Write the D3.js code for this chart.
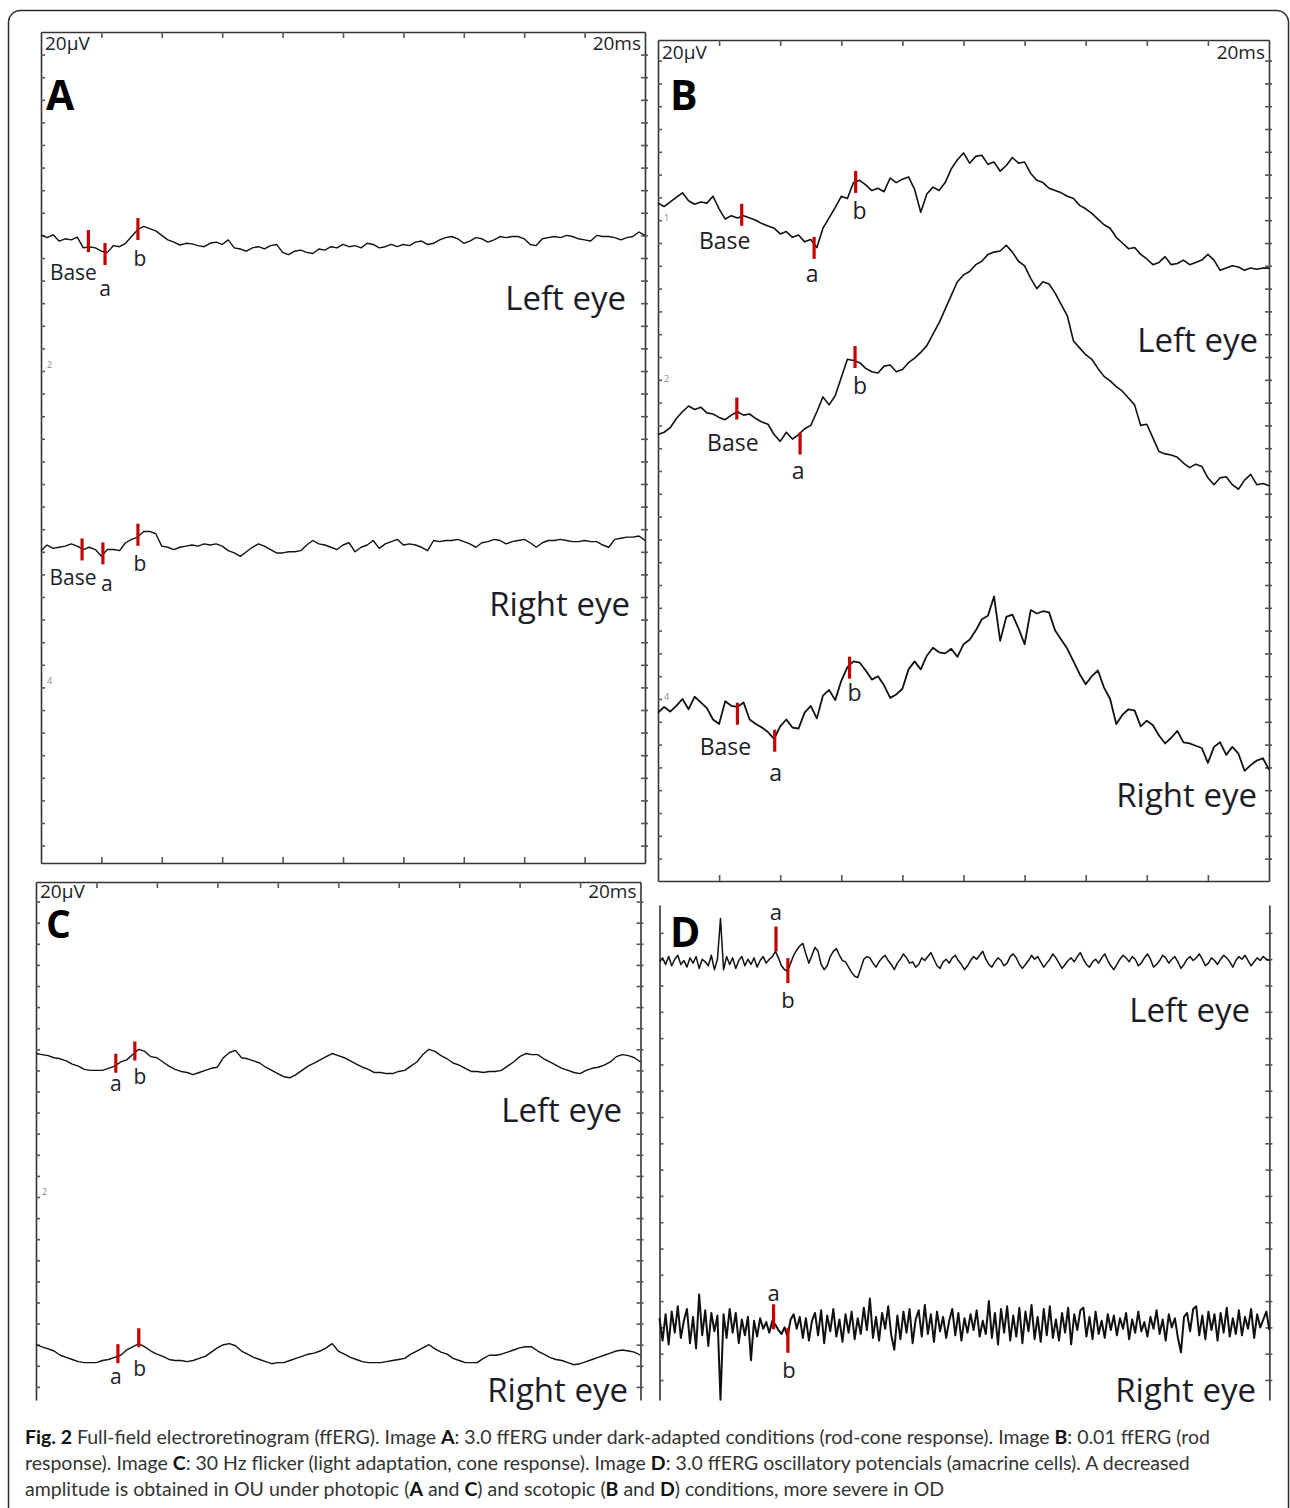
<!DOCTYPE html>
<html>
<head>
<meta charset="utf-8">
<title>ffERG</title>
<script src="https://cdn.jsdelivr.net/npm/d3@7"></script>
<style>
  body { margin: 0; background: #fff; }
  svg text { font-family: "Open Sans", sans-serif; }
</style>
</head>
<body>
<script>
// ---- data: time in ms (each top tick = 20 ms), amplitude in µV relative to the channel baseline ----
var timeTicks = [20, 40, 60, 80, 100, 120, 140, 160, 180];
var stepABC = 2;   // ms between samples, panels A B C
var stepD = 1;     // ms between samples, panel D

// A: 3.0 ffERG dark-adapted
var aLeft = [0.4,-2,0.5,-5,-3,-4,-1.5,-11,-10,-11, -14,-15,-9,-10,-7,-1,5,8,6,4, 0,-4,-6,-8.5,-7,-7.5,-9,-10,-7,-6,
  -8,-4,-11,-12,-14,-11,-10,-12,-9,-8, -15,-17,-14,-13,-15,-16,-12,-13,-10,-11, -8,-10,-9,-11,-7,-8,-11,-10,-8,-10,
  -8,-9,-6,-5,-8,-7,-4,-2,-1,-3, -7,-5,-2,-3,-6,-4,-1,-2,-1,-1, -3,-8,-9,-3,-2,-1,-2,0,-1,-3, -4,-5,0,-1,-1,-2,-4,-2,-1,3, 0];
var aRight = [-2,3,0,1,2,4,2,-1,1,-1, -7,-1,-1,-2,5,8,10,15,15,13, 2,1,-1,1,2,3,2,4,3,4, 2,-2,-4,-7,-3,1,4,2,-1,-4,
  -4,-3,-3,-2,3,7,4,3,1,-1, 3,5,-3,1,3,7,0,4,6,8, 3,4,3,1,-2,7,6,7,7,8, 6,4,1,5,6,8,7,4,6,7,
  8,5,1,5,7,7,8,7,6,6, 7,6,6,3,1,8,9,10,10,11, 7];
var aOffsets = [400, 123];
var aLeftMarks = [["Base", 15.7, -5], ["a", 21.2, -16.5], ["b", 32.1, 5.7]];
var aRightMarks = [["Base", 13.6, -0.9], ["a", 20.5, -4.4], ["b", 32.1, 12.1]];

// B: 0.01 ffERG
var bTrace1 = [2,-1,3,7,11,4,1,3,2,8, -3,-12,-9,-11,-9,-11,-13,-16,-18,-20, -25,-23,-28,-26,-32,-30,-37,-20,-11,-2,
  8,6,20,22,18,13,15,12,24,20, 23,25,14,-6,10,16,13,20,32,40, 46,37,43,44,36,38,30,35,42,37,
  38,28,22,20,15,13,11,8,6,0, -3,-7,-12,-17,-20,-28,-33,-38,-37,-43, -47,-52,-50,-45,-52,-51,-48,-52,-50,-48,
  -43,-48,-57,-55,-53,-54,-57,-55,-56,-55, -55];
var bTrace2 = [0,2,6,14,20,25,22,24,19,18, 15,13,17,20,17,18,14,11,9,0, -6,2,-4,0,5,8,20,33,26,34,
  50,66,65,63,58,55,54,60,61,55, 57,63,67,72,78,88,98,110,122,134, 140,143,149,152,158,160,161,166,160,152,
  148,137,128,134,132,124,114,104,82,76, 70,66,58,51,47,42,38,32,26,8, 9,-3,-15,-17,-18,-20,-25,-29,-26,-28,
  -38,-44,-38,-37,-44,-48,-40,-35,-44,-43, -45];
var bTrace3 = [0,5,1,6,12,3,14,9,4,-6, -10,10,6,5,9,-6,-10,-13,-17,-23, -12,-6,-13,-14,0,6,-5,15,20,11,
  28,40,45,44,37,29,32,24,13,16, 21,38,45,38,50,57,53,52,56,49, 60,64,72,82,85,102,63,84,86,74,
  60,90,87,89,88,72,64,56,45,34, 25,32,37,22,12,-10,-2,3,2,-12, -7,-11,-20,-27,-22,-16,-26,-27,-29,-31,
  -44,-30,-26,-37,-30,-36,-51,-46,-42,-40, -50];
var bOffsets = [433, 232, -12];
var bMarks1 = [["Base", 27.4, -8.3], ["a", 51.1, -37.3], ["b", 64.7, 20.6]];
var bMarks2 = [["Base", 25.8, 22.8], ["a", 46.5, -7.9], ["b", 64.5, 68]];
var bMarks3 = [["Base", 26, -0.9], ["a", 38.2, -24.6], ["b", 62.7, 39.5]];

// C: 30 Hz flicker
var cLeft = [0,-1,-2,-4,-5,-7,-10,-12,-15,-16, -16,-16,-14,-12,-8,-6,-1,4,2,-3, -4,-8,-12,-15,-17,-18,-20,-18,-16,-14,
  -13,-4,1,3,-4,-5,-7,-9,-13,-16, -19,-22,-23,-20,-16,-12,-9,-6,-3,0, -2,-4,-7,-10,-13,-15,-18,-18,-19,-19,
  -17,-16,-12,-8,-1,4,2,-2,-5,-9, -11,-14,-17,-17,-18,-17,-17,-16,-12,-8, -3,0,-1,-1,-5,-8,-11,-14,-16,-18,
  -19,-16,-14,-13,-11,-8,-3,-1,-2,-4, -8];
var cRight = [0,-2,-4,-6,-10,-12,-14,-16,-17,-17, -17,-15,-14,-12,-10,-5,-2,1,-2,-6, -9,-11,-14,-15,-15,-16,-15,-13,-11,-7,
  -3,0,1,-1,-6,-9,-12,-14,-16,-18, -17,-17,-15,-13,-11,-9,-8,-6,-3,1, -6,-9,-12,-14,-16,-17,-17,-17,-16,-15,
  -14,-13,-9,-6,-3,0,-4,-7,-9,-13, -15,-17,-17,-17,-13,-10,-10,-9,-7,-5, -3,-2,-2,-6,-9,-12,-14,-15,-17,-19,
  -18,-16,-14,-12,-10,-8,-6,-5,-6,-7, -10];
var cOffsets = [136, -140];
var cLeftMarks = [["a", 26.4, -9.2], ["b", 32.7, 2.4]];
var cRightMarks = [["a", 27.1, -8.5], ["b", 34, 6.6]];

// D: oscillatory potentials
var dLeft = [0,3,-2,4,-3,2,5,-2,1,-4, 3,-1,4,-5,2,0,-3,5,-6,2, 33,-6,4,-2,3,-5,1,4,-3,2,
  -2,3,-4,1,4,-1,2,4,8,3, -3,-6,-7,-1,5,9,12,14,6,-1, 5,11,8,-2,-6,-3,4,8,10,5,
  1,0,-4,-8,-11,-12,-5,2,4,3, -1,-4,0,3,5,1,-2,-6,-1,2, 6,3,-1,0,-4,-2,3,1,4,7,
  2,-3,-5,0,2,-1,3,5,1,-2, -6,-3,1,4,2,5,8,2,-2,-4, 0,3,1,-3,-1,4,6,3,-2,-5,
  -2,1,5,2,4,0,-4,-1,2,6, 3,-1,-5,-2,1,3,0,4,7,2, -2,-4,0,2,-1,3,6,1,-3,-6,
  -2,2,5,3,0,4,2,-3,-1,3, 6,2,-4,-2,1,5,3,-1,2,4, 0,-5,-2,2,4,1,3,6,2,-3,
  -1,3,1,-2,2,5,3,0,-4,1, 4,2,5,1,-3,0,3,1,4,2, 1];
var dRight = [5,-12,8,-15,10,-6,14,-10,3,12, -14,6,-18,23,-8,11,-16,9,-5,7, -57,8,-10,12,-6,9,-14,4,-8,6,
  -27,3,-9,5,-3,2,-6,3,0,-4, -7,-2,-9,4,8,-3,6,-10,5,-12, 3,9,-8,11,-14,7,-5,12,-9,4,
  -13,8,-6,10,-11,5,-7,13,-4,20, -10,6,-12,9,-3,14,-8,-19,7,-11, 10,-6,12,-14,4,11,-9,15,-7,8,
  -13,10,-5,6,-10,3,12,-8,9,-12, 5,-6,8,-4,11,-9,3,-7,18,-10, 9,-15,12,-6,14,-12,7,-9,13,-14,
  10,-5,15,-11,6,-13,12,-8,14,-10, 4,-12,9,-6,13,-15,8,-4,11,13, -9,6,-11,10,-7,3,-10,8,-4,7,
  -8,5,-3,9,-11,4,-6,10,-5,2, -9,6,-3,11,-7,4,-12,8,-2,5, -10,-21,6,9,-5,12,14,-8,7,-11,
  10,-4,8,-12,9,-6,13,-9,5,-7, 11,-8,6,-3,12,-10,8,-2,4,10, -4];
var dOffsets = [138, -138];
var dLeftMarks = [["a", 38.2, 17.3], ["b", 42.1, -6.7]];
var dRightMarks = [["a", 37.4, 6.1], ["b", 42.1, -11.8]];

// small channel numbers at the left border (µV position)
var aChan = [["2", 285], ["4", 6]];
var bChan = [["1", 422], ["2", 281], ["4", 2]];
var cChan = [["2", 5]];

// ---- layout ----
var W = 1290, H = 1508;
var svg = d3.select("body").append("svg").attr("width", W).attr("height", H);

svg.append("rect").attr("x", 8.5).attr("y", 10.5).attr("width", 1280).attr("height", 1530)
  .attr("rx", 12).attr("fill", "none").attr("stroke", "#2b2b2b").attr("stroke-width", 1.5);

var red = "#c40000";
var ink = "#1d1d28";

function panel(cfg) {
  var x = d3.scaleLinear().domain([0, 200]).range([cfg.x0, cfg.x1]);
  var y = d3.scaleLinear()
    .domain([(cfg.zeroY - cfg.y0) / cfg.k, (cfg.zeroY - cfg.y1) / cfg.k])
    .range([cfg.y0, cfg.y1]);
  var g = svg.append("g");

  var tv = d3.range(-400, 600, 20).filter(function (v) {
    var p = y(v); return p > cfg.y0 + 12 && p < cfg.y1 - 10;
  });

  // left and right borders with inward ticks
  g.append("g").attr("class", "ax").attr("transform", "translate(" + cfg.x0 + ",0)")
    .call(d3.axisRight(y).tickValues(tv).tickSize(4).tickSizeOuter(0).tickFormat(""));
  g.append("g").attr("class", "ax").attr("transform", "translate(" + cfg.x1 + ",0)")
    .call(d3.axisLeft(y).tickValues(tv).tickSize(4).tickSizeOuter(0).tickFormat(""));
  g.append("g").attr("class", "ax").attr("transform", "translate(" + cfg.x1 + ",0)")
    .call(d3.axisRight(y).tickValues(tv).tickSize(3).tickSizeOuter(0).tickFormat(""))
    .select(".domain").remove();
  if (cfg.top) {
    g.append("g").attr("class", "ax").attr("transform", "translate(0," + cfg.y0 + ")")
      .call(d3.axisBottom(x).tickValues(timeTicks).tickSize(6).tickSizeOuter(0).tickFormat(""));
  }
  if (cfg.bottom) {
    g.append("g").attr("class", "ax").attr("transform", "translate(0," + cfg.y1 + ")")
      .call(d3.axisTop(x).tickValues(timeTicks).tickSize(6).tickSizeOuter(0).tickFormat(""));
  }
  g.selectAll(".ax path").attr("stroke", "#333").attr("stroke-width", 1.6);
  g.selectAll(".ax line").attr("stroke", "#555").attr("stroke-width", 1.6);

  if (cfg.top) {
    g.append("text").attr("x", cfg.x0 + 4).attr("y", cfg.y0 + cfg.unitDy).text("20µV")
      .attr("font-size", 19).attr("fill", ink);
    g.append("text").attr("x", cfg.x1 - 4).attr("y", cfg.y0 + cfg.unitDy).text("20ms")
      .attr("text-anchor", "end").attr("font-size", 19).attr("fill", ink);
  }
  g.append("text").attr("x", cfg.letterX).attr("y", cfg.letterY).text(cfg.id)
    .attr("font-size", cfg.letterSize || 41).attr("font-weight", "bold").attr("fill", "#000");

  (cfg.chan || []).forEach(function (c) {
    g.append("text").attr("x", cfg.x0 + 6).attr("y", y(c[1]) + 3).text(c[0])
      .attr("font-size", 9).attr("fill", "#888");
  });

  var line = function (step, off) {
    return d3.line().x(function (d, i) { return x(i * step); })
      .y(function (d) { return y(d + off); });
  };

  cfg.traces.forEach(function (tr) {
    g.append("path").datum(tr.values).attr("d", line(cfg.step, tr.offset))
      .attr("fill", "none").attr("stroke", "#111").attr("stroke-width", tr.width || 1.4)
      .attr("stroke-linejoin", "round");

    tr.marks.forEach(function (m, i) {
      var mx = x(m[1]), my = y(m[2] + tr.offset);
      g.append("line").attr("x1", mx).attr("x2", mx)
        .attr("y1", my - cfg.markLen / 2).attr("y2", my + cfg.markLen / 2)
        .attr("stroke", red).attr("stroke-width", 3.2);
      var lo = tr.labelOff[i];
      g.append("text").attr("x", mx + lo[0]).attr("y", my + lo[1]).text(m[0])
        .attr("text-anchor", "middle").attr("dominant-baseline", "central")
        .attr("font-size", cfg.labelSize).attr("fill", ink);
    });

    if (tr.eye[0]) {
      g.append("text").attr("x", tr.eye[1]).attr("y", tr.eye[2]).text(tr.eye[0])
        .attr("text-anchor", "end").attr("font-size", 33).attr("fill", ink);
    }
  });
}

panel({
  id: "A", x0: 41, x1: 645, y0: 32, y1: 863, zeroY: 687.4, k: 1.13, step: stepABC,
  top: true, bottom: true, unitDy: 18, letterX: 46, letterY: 110, markLen: 22, labelSize: 21, chan: aChan,
  traces: [
    { values: aLeft, offset: aOffsets[0], marks: aLeftMarks,
      labelOff: [[-15, 31], [0, 34], [2, 29]], eye: ["Left eye", 626, 310] },
    { values: aRight, offset: aOffsets[1], marks: aRightMarks,
      labelOff: [[-9, 28], [4, 30], [2, 28]], eye: ["Right eye", 630, 616] }
  ]
});

panel({
  id: "B", x0: 658, x1: 1269, y0: 40, y1: 881, zeroY: 699, k: 1.14, step: stepABC,
  top: true, bottom: true, unitDy: 19, letterX: 670, letterY: 110, markLen: 22, labelSize: 23, chan: bChan,
  traces: [
    { values: bTrace1, offset: bOffsets[0], marks: bMarks1, width: 1.6,
      labelOff: [[-17, 25], [-2, 25], [4, 28]], eye: ["Left eye", 1258, 352] },
    { values: bTrace2, offset: bOffsets[1], marks: bMarks2, width: 1.6,
      labelOff: [[-4, 33], [-2, 26], [5, 28]], eye: ["", 0, 0] },
    { values: bTrace3, offset: bOffsets[2], marks: bMarks3, width: 1.8,
      labelOff: [[-12, 32], [1, 31], [5, 24]], eye: ["Right eye", 1257, 807] }
  ]
});

panel({
  id: "C", x0: 36, x1: 640.5, y0: 882, y1: 1400, zeroY: 1197, k: 1.055, step: stepABC,
  top: true, bottom: false, unitDy: 16, letterX: 46, letterY: 938, letterSize: 39, markLen: 19, labelSize: 21, chan: cChan,
  traces: [
    { values: cLeft, offset: cOffsets[0], marks: cLeftMarks,
      labelOff: [[0, 20], [5, 25]], eye: ["Left eye", 622, 1122] },
    { values: cRight, offset: cOffsets[1], marks: cRightMarks,
      labelOff: [[-2, 22], [1, 30]], eye: ["Right eye", 628, 1402] }
  ]
});

panel({
  id: "D", x0: 659.5, x1: 1269.4, y0: 905, y1: 1400, zeroY: 1143.3, k: 1.315, step: stepD,
  top: false, bottom: false, unitDy: 0, letterX: 670, letterY: 947, markLen: 25, labelSize: 22,
  traces: [
    { values: dLeft, offset: dOffsets[0], marks: dLeftMarks, width: 1.5,
      labelOff: [[0, -28], [0, 28]], eye: ["Left eye", 1250, 1022] },
    { values: dRight, offset: dOffsets[1], marks: dRightMarks, width: 2,
      labelOff: [[0, -25], [1, 29]], eye: ["Right eye", 1256, 1402] }
  ]
});

// ---- caption ----
var caption = [
  [["Fig. 2", 1], [" Full-field electroretinogram (ffERG). Image ", 0], ["A", 1], [": 3.0 ffERG under dark-adapted conditions (rod-cone response). Image ", 0], ["B", 1], [": 0.01 ffERG (rod", 0]],
  [["response). Image ", 0], ["C", 1], [": 30 Hz flicker (light adaptation, cone response). Image ", 0], ["D", 1], [": 3.0 ffERG oscillatory potencials (amacrine cells). A decreased", 0]],
  [["amplitude is obtained in OU under photopic (", 0], ["A", 1], [" and ", 0], ["C", 1], [") and scotopic (", 0], ["B", 1], [" and ", 0], ["D", 1], [") conditions, more severe in OD", 0]]
];
var capY = [1444, 1470, 1496];
caption.forEach(function (segs, li) {
  var t = svg.append("text").attr("x", 25).attr("y", capY[li])
    .attr("font-size", 19.5).attr("fill", "#333").style("font-family", "Lato, sans-serif");
  t.selectAll("tspan").data(segs).enter().append("tspan")
    .text(function (d) { return d[0]; })
    .attr("font-weight", function (d) { return d[1] ? "bold" : "normal"; })
    .attr("fill", function (d) { return d[1] ? "#111" : "#333"; });
});
</script>
</body>
</html>
